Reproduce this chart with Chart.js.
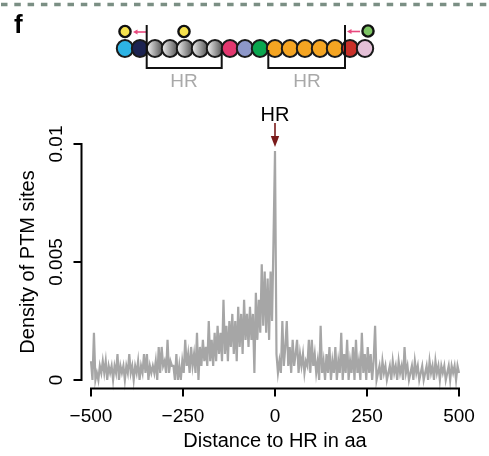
<!DOCTYPE html>
<html>
<head>
<meta charset="utf-8">
<script src="https://cdn.jsdelivr.net/npm/chart.js@4.4.1/dist/chart.umd.min.js"></script>
<style>
  html, body { margin: 0; padding: 0; background: #ffffff; }
  #wrap { width: 489px; height: 456px; position: relative; }
</style>
</head>
<body>
<div id="wrap"><canvas id="c" width="489" height="456"></canvas></div>
<script>
// Distance bins (aa) relative to the HR, 4 aa wide, from -500 to +500
const binStartAa = -500;
const binStepAa = 4;

// PTM site density per bin, in units of 1e-4
const densityE4 = [
  8, 0, 20, 0, 3, 0, 6, 3, 8, 3,
  8, 0, 6, 3, 6, 0, 6, 3, 11, 0,
  6, 3, 6, 0, 6, 3, 11, 3, 6, 0,
  6, 3, 8, 0, 6, 3, 11, 3, 11, 0,
  6, 3, 6, 3, 8, 0, 14, 3, 14, 6,
  8, 3, 17, 3, 8, 6, 6, 0, 11, 0,
  6, 0, 8, 3, 17, 6, 11, 3, 14, 6,
  11, 3, 20, 0, 14, 6, 17, 8, 14, 6,
  25, 8, 17, 6, 20, 8, 23, 11, 20, 8,
  34, 11, 23, 8, 25, 14, 28, 11, 25, 8,
  31, 14, 28, 11, 34, 17, 28, 14, 31, 17,
  28, 3, 37, 17, 34, 20, 49, 23, 46, 20,
  43, 17, 46, 25, 60, 97, 11, 3, 8, 3,
  25, 6, 14, 25, 6, 14, 3, 17, 6, 11,
  17, 3, 11, 6, 11, 3, 8, 6, 17, 3,
  17, 6, 11, 3, 8, 0, 23, 3, 8, 0,
  11, 3, 14, 0, 8, 3, 14, 0, 8, 3,
  20, 0, 11, 3, 17, 0, 8, 3, 14, 0,
  17, 3, 8, 0, 20, 3, 11, 0, 14, 3,
  11, 0, 8, 23, 0, 3, 6, 0, 8, 3,
  6, 0, 3, 6, 0, 8, 3, 6, 0, 8,
  3, 6, 0, 14, 3, 6, 0, 3, 6, 0,
  8, 3, 6, 0, 3, 6, 0, 3, 6, 0,
  8, 3, 6, 0, 8, 3, 6, 0, 6, 3,
  6, 0, 3, 6, 0, 6, 3, 6, 0, 6,
  3
];

const xTicks = [-500, -250, 0, 250, 500];
const xTickLabels = ['\u2212500', '\u2212250', '0', '250', '500'];
const yTicks = [0, 0.005, 0.01];
const yTickLabels = ['0', '0.005', '0.01'];
const xTitle = 'Distance to HR in aa';
const yTitle = 'Density of PTM sites';
const peakLabel = 'HR';
const peakAa = 0;
const domainLabels = ['HR', 'HR'];
const panelLetter = 'f';

const points = densityE4.map((v, i) => ({ x: binStartAa + i * binStepAa, y: v / 10000 }));

const FONT = '"Liberation Sans", Arial, Helvetica, sans-serif';

// R-style detached axes, peak marker and the protein schematic above the plot
const decorations = {
  id: 'decorations',
  beforeDraw(chart) {
    const ctx = chart.ctx;
    ctx.save();
    ctx.fillStyle = '#ffffff';
    ctx.fillRect(0, 0, chart.width, chart.height);
    ctx.restore();
  },
  afterDraw(chart) {
    const ctx = chart.ctx;
    const xs = chart.scales.x, ys = chart.scales.y;
    const area = chart.chartArea;
    ctx.save();

    // axes
    ctx.strokeStyle = '#000000';
    ctx.lineWidth = 2;
    ctx.lineCap = 'butt';
    const yAxisX = area.left - 9.5;
    const xAxisY = area.bottom + 8.5;
    const tickLen = 8;

    ctx.beginPath();
    ctx.moveTo(yAxisX, ys.getPixelForValue(yTicks[0]));
    ctx.lineTo(yAxisX, ys.getPixelForValue(yTicks[yTicks.length - 1]));
    yTicks.forEach(t => {
      const py = ys.getPixelForValue(t);
      ctx.moveTo(yAxisX + 1, py);
      ctx.lineTo(yAxisX - tickLen, py);
    });
    ctx.stroke();

    ctx.beginPath();
    ctx.moveTo(xs.getPixelForValue(xTicks[0]), xAxisY);
    ctx.lineTo(xs.getPixelForValue(xTicks[xTicks.length - 1]), xAxisY);
    xTicks.forEach(t => {
      const px = xs.getPixelForValue(t);
      ctx.moveTo(px, xAxisY - 1);
      ctx.lineTo(px, xAxisY + tickLen);
    });
    ctx.stroke();

    // tick labels
    ctx.fillStyle = '#000000';
    ctx.font = '19px ' + FONT;
    ctx.textAlign = 'center';
    ctx.textBaseline = 'alphabetic';
    xTicks.forEach((t, i) => {
      ctx.fillText(xTickLabels[i], xs.getPixelForValue(t), xAxisY + 33);
    });
    yTicks.forEach((t, i) => {
      ctx.save();
      ctx.translate(yAxisX - 20, ys.getPixelForValue(t));
      ctx.rotate(-Math.PI / 2);
      ctx.fillText(yTickLabels[i], 0, 0);
      ctx.restore();
    });

    // axis titles
    ctx.font = '20px ' + FONT;
    ctx.fillText(xTitle, (xs.getPixelForValue(xTicks[0]) + xs.getPixelForValue(xTicks[xTicks.length - 1])) / 2, xAxisY + 58.5);
    ctx.save();
    ctx.translate(33.5, (ys.getPixelForValue(yTicks[0]) + ys.getPixelForValue(yTicks[yTicks.length - 1])) / 2);
    ctx.rotate(-Math.PI / 2);
    ctx.fillText(yTitle, 0, 0);
    ctx.restore();

    // peak marker
    const hx = xs.getPixelForValue(peakAa);
    ctx.font = '20px ' + FONT;
    ctx.fillText(peakLabel, hx, 121);
    ctx.strokeStyle = '#7a1b1b';
    ctx.fillStyle = '#7a1b1b';
    ctx.lineWidth = 1.6;
    ctx.beginPath();
    ctx.moveTo(hx, 123);
    ctx.lineTo(hx, 138);
    ctx.stroke();
    ctx.beginPath();
    ctx.moveTo(hx - 4.2, 136);
    ctx.lineTo(hx + 4.2, 136);
    ctx.lineTo(hx, 147);
    ctx.closePath();
    ctx.fill();

    // dashed rule along the top edge
    ctx.strokeStyle = '#7b8f84';
    ctx.lineWidth = 3.4;
    ctx.setLineDash([6.5, 6.8]);
    ctx.beginPath();
    ctx.moveTo(1, 4.5);
    ctx.lineTo(chart.width, 4.5);
    ctx.stroke();
    ctx.setLineDash([]);

    // panel letter
    ctx.fillStyle = '#000000';
    ctx.font = 'bold 26px ' + FONT;
    ctx.textAlign = 'left';
    ctx.fillText(panelLetter, 14, 33);

    // protein schematic
    const beadColors = ['#2db4e5', '#1c2351', 'g', 'g', 'g', 'g', 'g',
      '#e2376f', '#8d97c9', '#0aa64f', '#f5a522', '#f5a522', '#f5a522',
      '#f5a522', '#f5a522', '#c93029', '#e4c0d7'];
    const bx0 = 125, bstep = 15, by = 48.5, br = 8.2;
    beadColors.forEach((c, i) => {
      const cx = bx0 + i * bstep;
      if (c === 'g') {
        const g = ctx.createLinearGradient(cx - br, by, cx + br, by);
        g.addColorStop(0, '#f2f2f2');
        g.addColorStop(1, '#4d4d4d');
        ctx.fillStyle = g;
      } else {
        ctx.fillStyle = c;
      }
      ctx.beginPath();
      ctx.ellipse(cx, by, br, br + 0.3, 0, 0, Math.PI * 2);
      ctx.fill();
      ctx.strokeStyle = '#1a1a1a';
      ctx.lineWidth = 2;
      ctx.stroke();
    });

    // modification sites above the beads
    [[125, 31.5, '#f6e24e'], [184, 31.5, '#f6e24e'], [368, 31, '#7cc463']].forEach(([cx, cy, col]) => {
      ctx.beginPath();
      ctx.arc(cx, cy, 5.6, 0, Math.PI * 2);
      ctx.fillStyle = col;
      ctx.fill();
      ctx.strokeStyle = '#111111';
      ctx.lineWidth = 2.4;
      ctx.stroke();
    });

    // pink arrows toward the sites
    ctx.strokeStyle = '#e8487d';
    ctx.fillStyle = '#e8487d';
    ctx.lineWidth = 1.6;
    [[146, 133, 32], [360, 347, 31.5]].forEach(([x1, x2, y]) => {
      ctx.beginPath();
      ctx.moveTo(x1, y);
      ctx.lineTo(x2 + 3, y);
      ctx.stroke();
      ctx.beginPath();
      ctx.moveTo(x2, y);
      ctx.lineTo(x2 + 4.5, y - 2.6);
      ctx.lineTo(x2 + 4.5, y + 2.6);
      ctx.closePath();
      ctx.fill();
    });

    // HR brackets
    ctx.strokeStyle = '#111111';
    ctx.lineWidth = 2;
    ctx.beginPath();
    ctx.moveTo(146.7, 25);
    ctx.lineTo(146.7, 68);
    ctx.lineTo(221.7, 68);
    ctx.lineTo(221.7, 50);
    ctx.moveTo(268.3, 50);
    ctx.lineTo(268.3, 68);
    ctx.lineTo(345, 68);
    ctx.lineTo(345, 25);
    ctx.stroke();

    ctx.fillStyle = '#a9a9a9';
    ctx.font = '19px ' + FONT;
    ctx.textAlign = 'center';
    ctx.fillText(domainLabels[0], 184, 87.3);
    ctx.fillText(domainLabels[1], 307, 87.3);

    ctx.restore();
  }
};

new Chart(document.getElementById('c'), {
  type: 'line',
  data: {
    datasets: [{
      data: points,
      borderColor: '#a6a6a6',
      borderWidth: 2.2,
      pointRadius: 0,
      tension: 0,
      fill: false,
      clip: false
    }]
  },
  options: {
    responsive: false,
    animation: false,
    devicePixelRatio: 1,
    layout: { padding: { left: 91, right: 30, top: 144, bottom: 76 } },
    scales: {
      x: { type: 'linear', min: -500, max: 500, display: false },
      y: { type: 'linear', min: 0, max: 0.01, display: false }
    },
    plugins: { legend: { display: false }, tooltip: { enabled: false } },
    events: []
  },
  plugins: [decorations]
});
</script>
</body>
</html>
